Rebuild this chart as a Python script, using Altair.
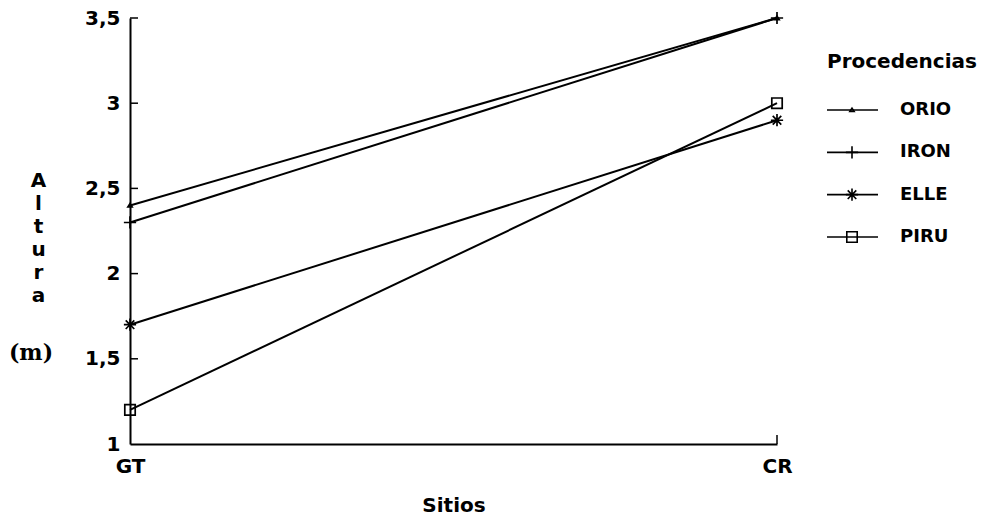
import altair as alt
import pandas as pd

# --- data ---
sitios = ["GT", "CR"]
procedencias = ["ORIO", "IRON", "ELLE", "PIRU"]
altura_GT = [2.4, 2.3, 1.7, 1.2]
altura_CR = [3.5, 3.5, 2.9, 3.0]
y_label_values = [1, 1.5, 2, 2.5, 3, 3.5]
y_tick_values = [1.5, 2, 2.5, 3, 3.5]
x_tick_sites = ["CR"]

rows = []
for p, a, b in zip(procedencias, altura_GT, altura_CR):
    rows.append({"sitio": "GT", "procedencia": p, "altura": a})
    rows.append({"sitio": "CR", "procedencia": p, "altura": b})
df = pd.DataFrame(rows)

W, H = 647, 426
SANS = "DejaVu Sans"

marker_paths = [
    "M-0.35,0.25L0,-0.3L0.35,0.25Z",                                   # ORIO tiny mark
    "M-1,0H1M0,-1V1",                                                  # IRON +
    "M-1,0H1M0,-1V1M-0.7,-0.7L0.7,0.7M-0.7,0.7L0.7,-0.7",              # ELLE *
    "M-0.85,-0.85H0.85V0.85H-0.85Z",                                   # PIRU square
]
shape_enc = alt.Shape("procedencia:N",
                      scale=alt.Scale(domain=procedencias, range=marker_paths),
                      legend=None)

x_enc = alt.X("sitio:N", sort=sitios,
              scale=alt.Scale(type="point", domain=sitios, padding=0),
              axis=alt.Axis(title="Sitios", ticks=False, labelAngle=0,
                            labelPadding=12, labelFont=SANS, labelFontSize=20,
                            labelFontWeight="bold", labelColor="black",
                            titleFont=SANS, titleFontSize=20, titleFontWeight="bold",
                            titleColor="black", titleBaseline="top", titleY=51,
                            domainColor="black", domainWidth=2))
y_enc = alt.Y("altura:Q",
              scale=alt.Scale(domain=[1, 3.5], nice=False, zero=False),
              axis=alt.Axis(values=y_label_values, ticks=False, grid=False,
                            labelExpr="replace(toString(datum.value), '.', ',')",
                            labelPadding=10, labelFont=SANS, labelFontSize=20,
                            labelFontWeight="bold", labelColor="black",
                            labelBaseline="middle",
                            title=["A", "l", "t", "u", "r", "a"], titleAngle=0,
                            titleAlign="center", titleBaseline="top",
                            titleX=-92, titleY=152, titleLineHeight=23,
                            titleFont=SANS, titleFontSize=20, titleFontWeight="bold",
                            titleColor="black",
                            domainColor="black", domainWidth=2))

lines = alt.Chart(df).mark_line(color="black", strokeWidth=2).encode(
    x=x_enc, y=y_enc, detail="procedencia:N")

points = alt.Chart(df).mark_point(color="black", filled=False, strokeWidth=1.7,
                                  size=150, opacity=1).encode(
    x=alt.X("sitio:N", sort=sitios), y=alt.Y("altura:Q"), shape=shape_enc)

yticks = alt.Chart(pd.DataFrame({"altura": y_tick_values})).mark_rule(
    color="black", strokeWidth=1.5).encode(
    y=alt.Y("altura:Q"), x=alt.value(0), x2=alt.value(8))

xticks = alt.Chart(pd.DataFrame({"sitio": x_tick_sites})).mark_rule(
    color="black", strokeWidth=1.5).encode(
    x=alt.X("sitio:N", sort=sitios), y=alt.value(H - 9), y2=alt.value(H))

unit = alt.Chart(pd.DataFrame({"t": ["(m)"]})).mark_text(
    font="DejaVu Serif", fontSize=22, fontWeight="bold", color="black",
    align="center", baseline="middle").encode(
    text="t:N", x=alt.value(-99), y=alt.value(335))

main = alt.layer(lines, points, yticks, xticks, unit)

# --- legend built from the series list ---
leg_df = pd.DataFrame({"procedencia": procedencias})
leg_y = alt.Y("procedencia:N", sort=procedencias,
              scale=alt.Scale(type="point", domain=procedencias, range=[92, 219], padding=0),
              axis=None)
leg_rule = alt.Chart(leg_df).mark_rule(color="black", strokeWidth=1.6).encode(
    y=leg_y, x=alt.value(697), x2=alt.value(748))
leg_pt = alt.Chart(leg_df).mark_point(color="black", filled=False, strokeWidth=1.6,
                                      size=150, opacity=1).encode(
    y=leg_y, x=alt.value(722), shape=shape_enc)
leg_txt = alt.Chart(leg_df).mark_text(font=SANS, fontSize=18, fontWeight="bold",
                                      color="black", align="left",
                                      baseline="middle").encode(
    y=leg_y, x=alt.value(770), text="procedencia:N")
leg_title = alt.Chart(pd.DataFrame({"t": ["Procedencias"]})).mark_text(
    font=SANS, fontSize=20, fontWeight="bold", color="black",
    align="left", baseline="middle").encode(
    text="t:N", x=alt.value(697), y=alt.value(44))

legend = alt.layer(leg_rule, leg_pt, leg_txt, leg_title)

chart = alt.layer(main, legend).resolve_scale(y="independent").properties(
    width=W, height=H,
    autosize=alt.AutoSizeParams(type="none"),
    padding={"left": 130, "top": 18, "right": 226, "bottom": 76},
    background="white",
).configure_view(stroke=None)

chart.save("out.html", embed_options={"renderer": "svg", "actions": False})
